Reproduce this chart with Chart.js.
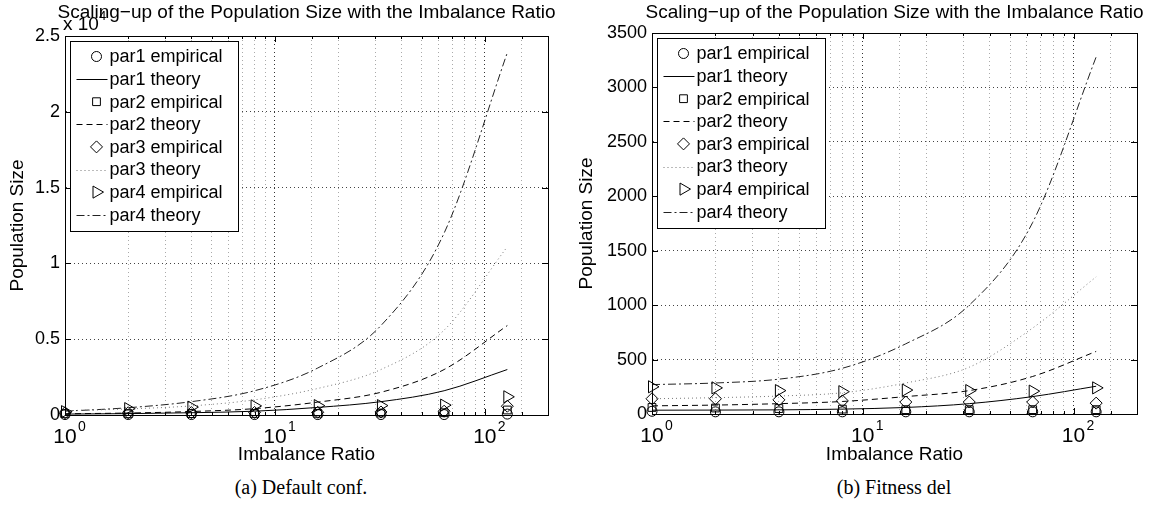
<!DOCTYPE html>
<html>
<head>
<meta charset="utf-8">
<script src="https://cdn.jsdelivr.net/npm/chart.js@4.4.0/dist/chart.umd.min.js"></script>
<style>
  body { margin: 0; background: #fff; width: 1156px; height: 525px; position: relative; overflow: hidden; }
  .panel { position: absolute; top: 0; height: 470px; }
  #leftBox { left: 0; width: 575px; }
  #rightBox { left: 575px; width: 581px; }
  .caption { position: absolute; top: 476px; width: 240px; text-align: center;
    font: 20px "Liberation Serif", "Times New Roman", serif; color: #000; }
</style>
</head>
<body>
<div class="panel" id="leftBox"><canvas id="defaultChart"></canvas></div>
<div class="panel" id="rightBox"><canvas id="fitnessChart"></canvas></div>
<div class="caption" style="left:181px">(a) Default conf.</div>
<div class="caption" style="left:774px">(b) Fitness del</div>
<script>
// imbalance ratios on the x axis
const ratios = [1, 2, 4, 8, 16, 32, 64, 128];
const parNames = ['par1', 'par2', 'par3', 'par4'];
const chartTitle = 'Scaling\u2212up of the Population Size with the Imbalance Ratio';

// (a) default configuration
const defPar1Emp = [30, 30, 30, 30, 30, 30, 30, 60];
const defPar1Theory = [60, 90, 150, 250, 500, 880, 1600, 3000];
const defPar2Emp = [80, 80, 90, 100, 110, 130, 150, 330];
const defPar2Theory = [80, 130, 230, 420, 850, 1500, 3000, 5900];
const defPar3Emp = [150, 150, 160, 170, 180, 200, 250, 580];
const defPar3Theory = [280, 400, 600, 1000, 1750, 3000, 5600, 11100];
const defPar4Emp = [220, 420, 520, 600, 620, 620, 650, 1200];
const defPar4Theory = [250, 480, 880, 1600, 3100, 5900, 12000, 23900];

// (b) fitness deletion
const fitPar1Emp = [25, 20, 20, 20, 20, 20, 20, 20];
const fitPar1Theory = [35, 36, 38, 45, 60, 95, 160, 255];
const fitPar2Emp = [60, 55, 50, 45, 40, 40, 40, 40];
const fitPar2Theory = [75, 82, 95, 115, 160, 215, 345, 575];
const fitPar3Emp = [140, 140, 130, 120, 110, 110, 110, 100];
const fitPar3Theory = [140, 150, 165, 195, 285, 430, 790, 1260];
const fitPar4Emp = [250, 240, 215, 205, 220, 215, 210, 240];
const fitPar4Theory = [270, 285, 320, 420, 645, 1000, 1760, 3280];

// y ticks
const defaultYTicks = { max: 25000, step: 5000, divisor: 10000 };
const fitnessYTicks = { max: 3500, step: 500, divisor: 1 };

const FONT = '"Liberation Sans", Arial, Helvetica, sans-serif';

const markerStyles = [
  { style: 'circle', radius: 5, rotation: 0 },
  { style: 'rect', radius: 5.5, rotation: 0 },
  { style: 'rectRot', radius: 6, rotation: 0 },
  { style: 'triangle', radius: 7, rotation: 90 }
];
const lineStyles = [
  { dash: [], color: '#000' },
  { dash: [6, 4], color: '#000' },
  { dash: [1, 3], color: '#777' },
  { dash: [8, 3, 2, 3], color: '#222' }
];

function series(values) {
  return ratios.map((r, i) => ({ x: r, y: values[i] }));
}

function buildDatasets(empirical, theory) {
  const sets = [];
  parNames.forEach((name, k) => {
    const m = markerStyles[k];
    const l = lineStyles[k];
    sets.push({
      label: name + ' empirical',
      data: series(empirical[k]),
      showLine: false,
      pointStyle: m.style,
      pointRadius: m.radius,
      pointRotation: m.rotation,
      pointBorderColor: '#000',
      pointBackgroundColor: 'rgba(0,0,0,0)',
      pointBorderWidth: 1,
      borderColor: '#000',
      clip: false
    });
    sets.push({
      label: name + ' theory',
      data: series(theory[k]),
      borderColor: l.color,
      borderWidth: 1,
      borderDash: l.dash,
      pointRadius: 0,
      cubicInterpolationMode: 'monotone',
      fill: false,
      clip: false
    });
  });
  return sets;
}

function isDecade(v) {
  const e = Math.log10(v);
  return Math.abs(e - Math.round(e)) < 1e-9;
}

// box, inward ticks, title, x tick labels with exponents, legend
const panelDeco = {
  id: 'panelDeco',
  afterDraw(chart, args, opts) {
    const { ctx, chartArea: a } = chart;
    const xs = chart.scales.x, ys = chart.scales.y;
    ctx.save();
    ctx.strokeStyle = '#000';
    ctx.lineWidth = 1;
    ctx.setLineDash([]);
    ctx.beginPath();
    xs.ticks.forEach(t => {
      const px = Math.round(xs.getPixelForValue(t.value)) + 0.5;
      const len = isDecade(t.value) ? 6 : 3;
      ctx.moveTo(px, a.bottom); ctx.lineTo(px, a.bottom - len);
      ctx.moveTo(px, a.top); ctx.lineTo(px, a.top + len);
    });
    ys.ticks.forEach(t => {
      const py = Math.round(ys.getPixelForValue(t.value)) + 0.5;
      ctx.moveTo(a.left, py); ctx.lineTo(a.left + 6, py);
      ctx.moveTo(a.right, py); ctx.lineTo(a.right - 6, py);
    });
    ctx.stroke();
    ctx.strokeRect(Math.round(a.left) + 0.5, Math.round(a.top) + 0.5,
      Math.round(a.right - a.left), Math.round(a.bottom - a.top));

    ctx.fillStyle = '#000';
    // title
    ctx.font = '19px ' + FONT;
    ctx.textAlign = 'center';
    ctx.textBaseline = 'middle';
    ctx.fillText(opts.title, (a.left + a.right) / 2, 13);

    // x tick labels 10^n
    [1, 10, 100].forEach((v, n) => {
      const px = xs.getPixelForValue(v);
      ctx.font = '21px ' + FONT;
      ctx.textAlign = 'center';
      ctx.textBaseline = 'alphabetic';
      ctx.fillText('10', px, a.bottom + 28);
      ctx.font = '14px ' + FONT;
      ctx.textAlign = 'left';
      ctx.fillText(String(n), px + 13, a.bottom + 16);
    });

    // exponent of the y axis
    if (opts.exponent) {
      ctx.font = '19px ' + FONT;
      ctx.textAlign = 'left';
      ctx.textBaseline = 'alphabetic';
      ctx.fillText('x 10', a.left - 2, a.top - 6);
      ctx.font = '13px ' + FONT;
      ctx.fillText(opts.exponent, a.left + 34, a.top - 16);
    }

    // legend box
    const bx = Math.round(a.left) + 5.5, by = Math.round(a.top) + 5.5;
    const bw = 168, bh = 190;
    ctx.fillStyle = '#fff';
    ctx.fillRect(bx, by, bw, bh);
    ctx.strokeStyle = '#000';
    ctx.strokeRect(bx, by, bw, bh);
    chart.data.datasets.forEach((ds, i) => {
      const y = by + 15 + i * 22.6;
      if (ds.showLine === false) {
        if (Chart.helpers && Chart.helpers.drawPoint) {
          ctx.strokeStyle = '#000';
          ctx.fillStyle = 'rgba(0,0,0,0)';
          ctx.lineWidth = 1;
          ctx.setLineDash([]);
          Chart.helpers.drawPoint(ctx, {
            pointStyle: ds.pointStyle, radius: ds.pointRadius,
            rotation: ds.pointRotation, borderWidth: 1
          }, bx + 26, y);
        }
      } else {
        ctx.strokeStyle = ds.borderColor;
        ctx.lineWidth = 1;
        ctx.setLineDash(ds.borderDash);
        ctx.beginPath();
        ctx.moveTo(bx + 6, Math.round(y) + 0.5);
        ctx.lineTo(bx + 37, Math.round(y) + 0.5);
        ctx.stroke();
        ctx.setLineDash([]);
      }
      ctx.fillStyle = '#000';
      ctx.font = '18px ' + FONT;
      ctx.textAlign = 'left';
      ctx.textBaseline = 'middle';
      ctx.fillText(ds.label, bx + 39, y + 1);
    });
    ctx.restore();
  }
};

function makeChart(canvasId, empirical, theory, yTicks, layout) {
  const ctx = document.getElementById(canvasId).getContext('2d');
  return new Chart(ctx, {
    type: 'line',
    data: { datasets: buildDatasets(empirical, theory) },
    plugins: [panelDeco],
    options: {
      responsive: true,
      maintainAspectRatio: false,
      animation: false,
      events: [],
      layout: { padding: { top: layout.top, left: 0, right: layout.right, bottom: 0 } },
      plugins: {
        legend: { display: false },
        tooltip: { enabled: false },
        panelDeco: { title: chartTitle, exponent: layout.exponent }
      },
      scales: {
        x: {
          type: 'logarithmic',
          min: 1,
          max: 200,
          afterFit: s => { s.height = layout.xHeight; },
          ticks: { display: false },
          grid: {
            drawTicks: false,
            lineWidth: 1,
            color: c => (c.tick && isDecade(c.tick.value)) ? '#333' : '#aaa'
          },
          border: { display: true, color: '#000', width: 1, dash: [1, 3] },
          title: {
            display: true, text: 'Imbalance Ratio', color: '#000',
            font: { family: FONT, size: 19 }, padding: { top: 0, bottom: 3.5 }
          }
        },
        y: {
          min: 0,
          max: yTicks.max,
          afterFit: s => { s.width = layout.yWidth; },
          ticks: {
            stepSize: yTicks.step,
            color: '#000',
            padding: 5,
            font: { family: FONT, size: 18 },
            callback: v => String(v / yTicks.divisor)
          },
          grid: { drawTicks: false, color: '#444', lineWidth: 1 },
          border: { display: true, color: '#000', width: 1, dash: [1, 3] },
          title: {
            display: true, text: 'Population Size', color: '#000',
            font: { family: FONT, size: 19 }, padding: { top: layout.yTitlePad, bottom: 0 }
          }
        }
      }
    }
  });
}

makeChart('defaultChart',
  [defPar1Emp, defPar2Emp, defPar3Emp, defPar4Emp],
  [defPar1Theory, defPar2Theory, defPar3Theory, defPar4Theory],
  defaultYTicks,
  { top: 36, right: 27, xHeight: 55, yWidth: 65, yTitlePad: 6.5, exponent: '4' });

makeChart('fitnessChart',
  [fitPar1Emp, fitPar2Emp, fitPar3Emp, fitPar4Emp],
  [fitPar1Theory, fitPar2Theory, fitPar3Theory, fitPar4Theory],
  fitnessYTicks,
  { top: 33, right: 19, xHeight: 56, yWidth: 77, yTitlePad: 0.5, exponent: null });
</script>
</body>
</html>
